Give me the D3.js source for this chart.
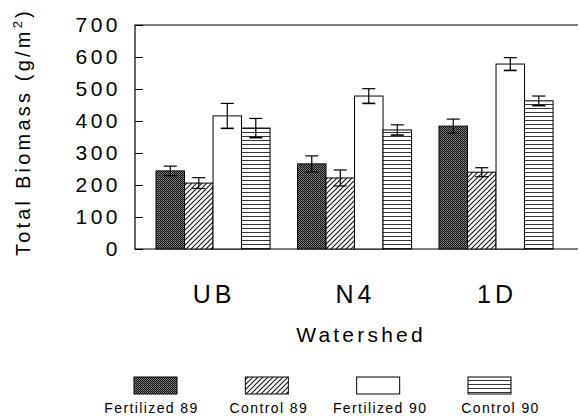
<!DOCTYPE html>
<html><head><meta charset="utf-8">
<script src="https://cdn.jsdelivr.net/npm/d3@7"></script>
<style>body{margin:0;background:#fff}svg{display:block;font-family:"Liberation Sans",Arial,sans-serif}</style>
</head><body><svg id="c" width="579" height="417"></svg>
<script>
const categories = ["UB", "N4", "1D"];
const series = ["Fertilized 89", "Control 89", "Fertilized 90", "Control 90"];
const fert89 = [244, 266, 384];
const ctrl89 = [206, 222, 240];
const fert90 = [416, 478, 578];
const ctrl90 = [378, 372, 463];
const err89F = [15, 25, 22];
const err89C = [17, 25, 14];
const err90F = [39, 23, 20];
const err90C = [30, 16, 15];
const yTicks = [0, 100, 200, 300, 400, 500, 600, 700];

const values = [fert89, ctrl89, fert90, ctrl90];
const errors = [err89F, err89C, err90F, err90C];
const fills = ["url(#dots)", "url(#hatch)", "#fff", "url(#hlines)"];

const svg = d3.select("#c");
const L = 135, R = 578, T = 25, B = 249;

const defs = svg.append("defs");
const pd = defs.append("pattern").attr("id","dots").attr("patternUnits","userSpaceOnUse").attr("width",2).attr("height",2);
pd.append("rect").attr("width",2).attr("height",2).attr("fill","#111");
pd.append("rect").attr("x",1).attr("y",0).attr("width",1).attr("height",1).attr("fill","#8a8a8a");
pd.append("rect").attr("x",0).attr("y",1).attr("width",1).attr("height",1).attr("fill","#6a6a6a");
const ph = defs.append("pattern").attr("id","hatch").attr("patternUnits","userSpaceOnUse").attr("width",5).attr("height",5);
ph.append("rect").attr("width",5).attr("height",5).attr("fill","#fff");
ph.append("path").attr("d","M0,5L5,0M-1,1L1,-1M4,6L6,4").attr("stroke","#111").attr("stroke-width",1.1);
const pl = defs.append("pattern").attr("id","hlines").attr("patternUnits","userSpaceOnUse").attr("width",8).attr("height",4);
pl.append("rect").attr("width",8).attr("height",4).attr("fill","#fff");
pl.append("line").attr("x1",0).attr("x2",8).attr("y1",0.5).attr("y2",0.5).attr("stroke","#333").attr("stroke-width",1);

const y = d3.scaleLinear().domain([0, 700]).range([B, T]);
const x0 = d3.scaleBand().domain(categories).range([141.85, 567.2]).paddingInner(0.194).paddingOuter(0.1);
const x1 = d3.scaleBand().domain(series).range([0, x0.bandwidth()]);

// frame
svg.append("path").attr("d",`M${R},${T}H${L}V${B}H${R}`).attr("fill","none").attr("stroke","#000").attr("stroke-width",1.2);

// y axis ticks (inward) + labels
const yAxis = d3.axisLeft(y).tickValues(yTicks).tickSize(-8).tickPadding(17);
const ga = svg.append("g").attr("transform",`translate(${L},0)`).call(yAxis);
ga.select(".domain").remove();
ga.selectAll(".tick line").attr("stroke","#000");
ga.selectAll(".tick text").attr("font-size",21).attr("letter-spacing",3.5).attr("fill","#000")
  .attr("font-family","\"Liberation Sans\",Arial,sans-serif").attr("dx","3");

// bars
series.forEach((s, si) => {
  const g = svg.append("g");
  categories.forEach((c, ci) => {
    const v = values[si][ci], e = errors[si][ci];
    const bx = x0(c) + x1(s), bw = x1.bandwidth();
    g.append("rect").attr("x",bx).attr("y",y(v)).attr("width",bw).attr("height",y(0)-y(v))
      .attr("fill",fills[si]).attr("stroke","#000").attr("stroke-width",1);
    const cx = bx + bw/2;
    const eb = svg.append("g").attr("stroke","#000").attr("stroke-width",1.2);
    eb.append("line").attr("x1",cx).attr("x2",cx).attr("y1",y(v+e)).attr("y2",y(v-e));
    eb.append("line").attr("x1",cx-6.5).attr("x2",cx+6.5).attr("y1",y(v+e)).attr("y2",y(v+e));
    eb.append("line").attr("x1",cx-6.5).attr("x2",cx+6.5).attr("y1",y(v-e)).attr("y2",y(v-e)).attr("stroke-width",si===2||si===3?1.6:1.2);
  });
});

// category labels
svg.append("g").selectAll("text").data(categories).join("text")
  .attr("x", d => x0(d) + x0.bandwidth()/2 + 1).attr("y", 303)
  .attr("text-anchor","middle").attr("font-size",25).attr("letter-spacing",4).text(d => d);

svg.append("text").attr("x",361).attr("y",342).attr("text-anchor","middle")
  .attr("font-size",21).attr("letter-spacing",3.2).text("Watershed");

// y title
const yt = svg.append("text").attr("transform","translate(30,132) rotate(-90)")
  .attr("text-anchor","middle").attr("font-size",20).attr("letter-spacing",3.2);
yt.append("tspan").text("Total Biomass (g/m");
yt.append("tspan").attr("font-size",13).attr("dy",-8).text("2");
yt.append("tspan").attr("dy",8).text(")");

// legend
const lx = d3.scalePoint().domain(series).range([155.5, 489.5]);
const lg = svg.append("g").selectAll("g").data(series).join("g");
lg.append("rect").attr("x", d => lx(d) - 21.5).attr("y", 377).attr("width",43).attr("height",17)
  .attr("fill", (d,i) => fills[i]).attr("stroke","#000").attr("stroke-width",1);
lg.append("text").attr("x", d => lx(d) + (d==="Fertilized 89" ? -4 : d==="Control 90" ? 11 : 2)).attr("y", 413)
  .attr("text-anchor","middle").attr("font-size",14).attr("letter-spacing",1.4).text(d => d);
</script></body></html>
